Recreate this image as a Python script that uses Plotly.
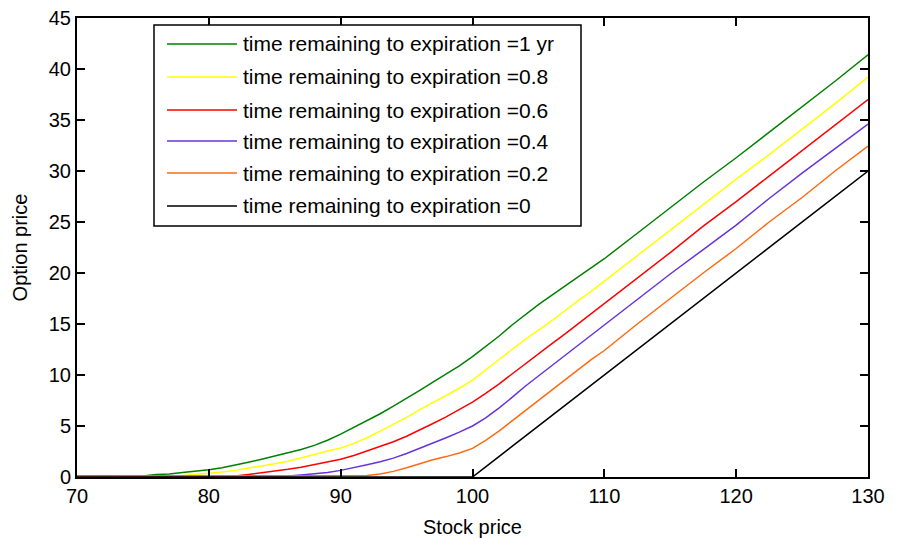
import plotly.graph_objects as go

stock_price = [70, 72, 74, 75, 76, 77, 78, 79, 80, 81, 82, 83, 84, 85, 86, 87, 88, 89,
               90, 91, 92, 93, 94, 95, 96, 97, 98, 99, 100, 101, 102, 103, 104, 105,
               106, 107, 108, 109, 110, 112.5, 115, 117.5, 120, 122.5, 125, 127.5, 130]

t_1yr = [0.1, 0.1, 0.1, 0.1, 0.25, 0.3, 0.45, 0.55, 0.7, 0.9, 1.15, 1.45, 1.75, 2.05,
         2.35, 2.7, 3.1, 3.6, 4.2, 4.85, 5.5, 6.2, 6.95, 7.7, 8.5, 9.3, 10.1, 10.9,
         11.8, 12.8, 13.8, 14.9, 15.9, 16.9, 17.8, 18.7, 19.6, 20.5, 21.4, 23.9,
         26.4, 28.9, 31.3, 33.8, 36.3, 38.8, 41.4]
t_08 = [0.1, 0.1, 0.1, 0.1, 0.1, 0.1, 0.15, 0.25, 0.35, 0.5, 0.65, 0.85, 1.05, 1.3,
        1.55, 1.85, 2.2, 2.55, 2.85, 3.3, 3.85, 4.5, 5.15, 5.85, 6.6, 7.3, 8.0, 8.7,
        9.5, 10.5, 11.5, 12.5, 13.5, 14.4, 15.3, 16.3, 17.3, 18.2, 19.2, 21.7,
        24.2, 26.7, 29.2, 31.6, 34.1, 36.6, 39.2]
t_06 = [0.1, 0.1, 0.1, 0.1, 0.1, 0.1, 0.1, 0.1, 0.1, 0.1, 0.1, 0.25, 0.4, 0.55,
        0.75, 0.95, 1.2, 1.45, 1.75, 2.1, 2.55, 3.0, 3.45, 4.0, 4.6, 5.25, 5.9, 6.6,
        7.35, 8.2, 9.1, 10.1, 11.1, 12.1, 13.05, 14.0, 15.0, 16.0, 17.0, 19.5,
        22.0, 24.6, 27.0, 29.5, 32.0, 34.5, 37.0]
t_04 = [0.1, 0.1, 0.1, 0.1, 0.1, 0.1, 0.1, 0.1, 0.1, 0.1, 0.1, 0.1, 0.1, 0.1,
        0.1, 0.2, 0.3, 0.45, 0.65, 0.9, 1.2, 1.5, 1.85, 2.3, 2.8, 3.3, 3.85, 4.4,
        5.0, 5.8, 6.75, 7.8, 8.9, 9.9, 10.9, 11.9, 12.9, 13.9, 14.9, 17.4,
        19.9, 22.3, 24.7, 27.3, 29.8, 32.2, 34.6]
t_02 = [0.1, 0.1, 0.1, 0.1, 0.1, 0.1, 0.1, 0.1, 0.1, 0.1, 0.1, 0.1, 0.1, 0.1,
        0.1, 0.1, 0.1, 0.1, 0.1, 0.1, 0.15, 0.3, 0.55, 0.9, 1.3, 1.7, 2.0, 2.35,
        2.8, 3.6, 4.5, 5.5, 6.5, 7.5, 8.5, 9.55, 10.55, 11.5, 12.4, 15.0,
        17.5, 20.0, 22.4, 25.0, 27.4, 30.0, 32.45]
t_0 = [0, 0, 0, 0, 0, 0, 0, 0, 0, 0, 0, 0, 0, 0,
       0, 0, 0, 0, 0, 0, 0, 0, 0, 0, 0, 0, 0, 0,
       0, 1, 2, 3, 4, 5, 6, 7, 8, 9, 10, 12.5,
       15, 17.5, 20, 22.5, 25, 27.5, 30]

series_names = [
    "time remaining to expiration =1 yr",
    "time remaining to expiration =0.8",
    "time remaining to expiration =0.6",
    "time remaining to expiration =0.4",
    "time remaining to expiration =0.2",
    "time remaining to expiration =0",
]
series_values = [t_1yr, t_08, t_06, t_04, t_02, t_0]
series_colors = ["#008000", "#FFFF00", "#FF0000", "#6633DD", "#FF6A10", "#000000"]

FONT = "Liberation Sans, Arial, sans-serif"

fig = go.Figure()
for name, vals, col in zip(series_names, series_values, series_colors):
    fig.add_trace(go.Scatter(x=stock_price, y=vals, mode="lines", name=name,
                             line=dict(color=col, width=1.5), showlegend=False))

# MATLAB-style legend box drawn in paper coordinates
W, H = 901, 538
L, R, T, B = 77, 33, 18, 61
pw, ph = W - L - R, H - T - B

def px_x(p):
    return (p - L) / pw

def px_y(p):
    return (H - B - p) / ph

shapes = [dict(type="rect", xref="paper", yref="paper",
               x0=px_x(154), x1=px_x(581), y0=px_y(226), y1=px_y(25),
               line=dict(color="black", width=1.5), fillcolor="white", layer="above")]
annotations = []
rows = [44, 77, 110, 141, 173, 206]
for name, col, ry in zip(series_names, series_colors, rows):
    shapes.append(dict(type="line", xref="paper", yref="paper",
                       x0=px_x(167), x1=px_x(237), y0=px_y(ry), y1=px_y(ry),
                       line=dict(color=col, width=1.5), layer="above"))
    annotations.append(dict(xref="paper", yref="paper", x=px_x(241), y=px_y(ry),
                            text=name, showarrow=False, xanchor="left", yanchor="middle",
                            font=dict(family=FONT, size=21, color="black")))

fig.update_layout(
    width=W, height=H,
    margin=dict(l=L, r=R, t=T, b=B),
    paper_bgcolor="white", plot_bgcolor="white",
    font=dict(family=FONT, size=20, color="black"),
    shapes=shapes, annotations=annotations,
    xaxis=dict(range=[70, 130], tick0=70, dtick=10, showgrid=False, zeroline=False,
               showline=True, linecolor="black", linewidth=2, mirror="ticks",
               ticks="inside", ticklen=8, tickwidth=1.5, tickcolor="black",
               automargin=False,
               title=dict(text="Stock price", standoff=15, font=dict(size=20))),
    yaxis=dict(range=[0, 45], tick0=0, dtick=5, showgrid=False, zeroline=False,
               showline=True, linecolor="black", linewidth=2, mirror="ticks",
               ticks="inside", ticklen=8, tickwidth=1.5, tickcolor="black",
               automargin=False,
               title=dict(text="Option price", standoff=16, font=dict(size=20))),
)

fig.write_html("out.html")
